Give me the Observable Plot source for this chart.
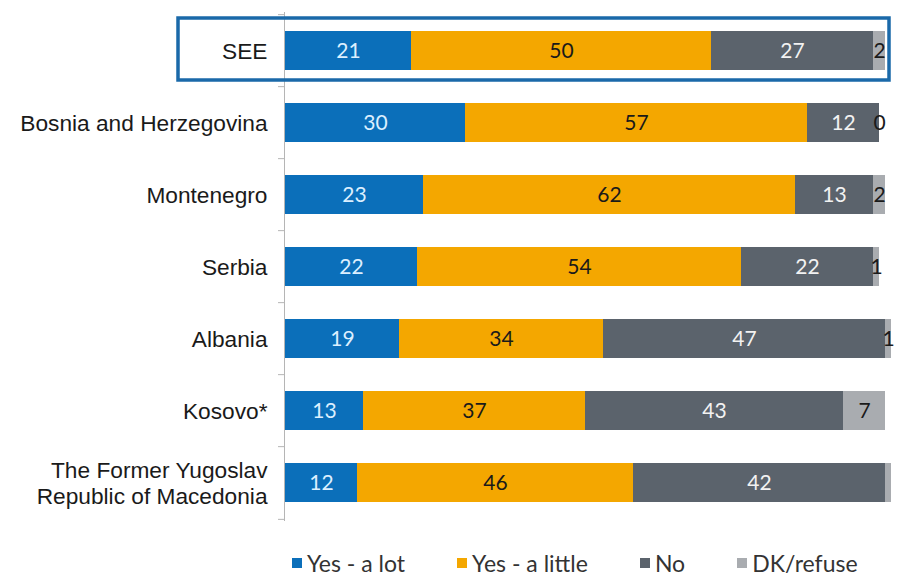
<!DOCTYPE html>
<html><head><meta charset="utf-8">
<script src="https://cdn.jsdelivr.net/npm/d3@7"></script>
<script src="https://cdn.jsdelivr.net/npm/@observablehq/plot@0.6"></script>
<style>
body{margin:0;background:#fff;width:906px;height:576px;overflow:hidden}
#legend{display:flex;gap:52px;padding-left:292px;height:36px;box-sizing:border-box;padding-top:9px;font-family:Lato,sans-serif;font-size:23px;line-height:26px;color:#333}
#legend .item{display:flex;align-items:center;white-space:pre}
#legend .sw{width:10px;height:10px;margin-right:5px;display:inline-block}
</style>
</head><body>
<div id="chart"></div>
<div id="legend"></div>
<script>
const countries = ["SEE","Bosnia and Herzegovina","Montenegro","Serbia","Albania","Kosovo*","The Former Yugoslav\nRepublic of Macedonia"];
const seriesNames = ["Yes - a lot","Yes - a little","No","DK/refuse"];
const yesLot    = [21,30,23,22,19,13,12];
const yesLittle = [50,57,62,54,34,37,46];
const no        = [27,12,13,22,47,43,42];
const dk        = [2,0,2,1,1,7,1];
const dkLabelShown = [true,true,true,true,true,true,false];
const highlighted = ["SEE"];

const colors = ["#0b6fba","#f4a700","#5b636c","#a9acb0"];
const labelColors = ["#dcefff","#1a1a1a","#f2f2f2","#1a1a1a"];

const rows = [];
countries.forEach((c,i)=>{
  const vals=[yesLot[i],yesLittle[i],no[i],dk[i]];
  let acc=0;
  vals.forEach((v,j)=>{
    rows.push({country:c, series:seriesNames[j], si:j, value:v, x1:acc, x2:acc+v,
      label: (j===3 && !dkLabelShown[i]) ? "" : String(v)});
    acc+=v;
  });
});

const W=906, H=540, mt=12, mb=19;
const step=(H-mt-mb)/countries.length;

const marks=[
  Plot.barX(rows,{x1:"x1",x2:"x2",y:"country",fill:"series"}),
  Plot.ruleX([0],{stroke:"#b5b5b5",strokeWidth:1,dx:-1}),
  Plot.ruleY(countries,{y:d=>d,x1:-1,x2:0,dx:-1,dy:-step/2,stroke:"#b5b5b5"}),
  Plot.ruleY(countries.slice(-1),{y:d=>d,x1:-1,x2:0,dx:-1,dy:step/2,stroke:"#b5b5b5"}),
  ...seriesNames.map((s,j)=>Plot.text(rows.filter(r=>r.si===j),{
    x:d=>(d.x1+d.x2)/2,y:"country",text:"label",fill:labelColors[j],
    fontFamily:"Lato, sans-serif",fontSize:21})),
  Plot.axisY({tickSize:0,tickPadding:18,fontSize:22.7,fontFamily:"Liberation Sans, Arial, sans-serif",lineHeight:1.15,label:null}),
  Plot.barX(highlighted,{y:d=>d,x1:0,x2:100,fill:"none",stroke:"#1a69a9",strokeWidth:3.5,
    insetLeft:-107,insetRight:-4,insetTop:-13,insetBottom:-10})
];

const chart=Plot.plot({
  width:W,height:H,marginLeft:285,marginRight:21,marginTop:mt,marginBottom:mb,
  style:{color:"#1a1a1a",background:"#fff",overflow:"visible"},
  x:{domain:[0,100],axis:null},
  y:{domain:countries,paddingInner:0.46,paddingOuter:0.23,axis:null},
  color:{domain:seriesNames,range:colors},
  marks
});
document.getElementById("chart").appendChild(chart);

const lg=document.getElementById("legend");
seriesNames.forEach((s,j)=>{
  const it=document.createElement("div");it.className="item";
  const sw=document.createElement("span");sw.className="sw";sw.style.background=colors[j];
  it.appendChild(sw);it.appendChild(document.createTextNode(s));lg.appendChild(it);
});
</script>
</body></html>
